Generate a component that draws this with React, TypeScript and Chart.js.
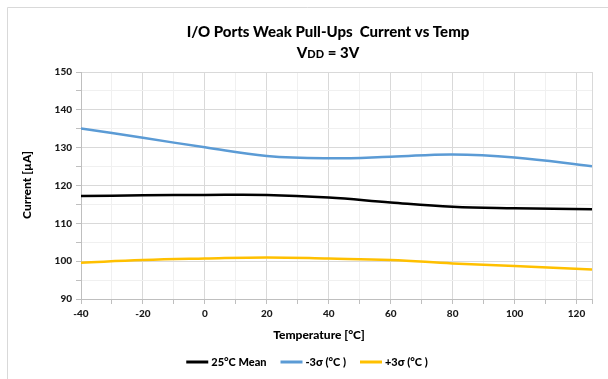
import React, { useEffect, useRef } from "react";
import { Chart, registerables } from "chart.js";

Chart.register(...registerables);

const temps = [-40, -20, 0, 20, 40, 60, 80, 100, 125];
const mean25 = [117.2, 117.4, 117.5, 117.5, 116.8, 115.5, 114.4, 114.0, 113.7];
const minus3s = [135.1, 132.6, 130.1, 127.8, 127.2, 127.6, 128.2, 127.4, 125.1];
const plus3s = [99.6, 100.3, 100.7, 101.0, 100.7, 100.3, 99.4, 98.7, 97.8];
const seriesNames = ["25°C Mean", "-3σ (°C )", "+3σ (°C )"];
const seriesColors = ["#000000", "#5B9BD5", "#FFC000"];
const xTickValues = [-40, -30, -20, -10, 0, 10, 20, 30, 40, 50, 60, 70, 80, 90, 100, 110, 120, 125];
const titleLine1 = "I/O Ports Weak Pull-Ups  Current vs Temp";
const xTitle = "Temperature [°C]";
const yTitle = "Current [µA]";

const FONT = "Lato, 'Open Sans', sans-serif";
const TEXT = "#1a1a1a";

const decor = {
  id: "decor",
  beforeDraw(chart: any) {
    const ctx = chart.ctx;
    ctx.save();
    ctx.fillStyle = "#ffffff";
    ctx.fillRect(0, 0, chart.width, chart.height);
    ctx.strokeStyle = "#d9d9d9";
    ctx.lineWidth = 1;
    ctx.beginPath();
    ctx.moveTo(7.5, chart.height);
    ctx.lineTo(7.5, 7.5);
    ctx.lineTo(chart.width, 7.5);
    ctx.stroke();
    ctx.restore();
  },
  afterDraw(chart: any) {
    const ctx = chart.ctx;
    ctx.save();
    ctx.fillStyle = "#000000";
    ctx.textBaseline = "middle";
    ctx.font = `900 15px ${FONT}`;
    ctx.textAlign = "center";
    ctx.fillText(titleLine1, 328, 32);
    const big = `900 15px ${FONT}`;
    const small = `900 11px ${FONT}`;
    const parts = [
      { t: "V", f: big },
      { t: "DD", f: small },
      { t: " = 3V", f: big },
    ];
    let total = 0;
    parts.forEach((p) => {
      ctx.font = p.f;
      total += ctx.measureText(p.t).width;
    });
    let x = 328 - total / 2;
    ctx.textAlign = "left";
    ctx.textBaseline = "alphabetic";
    parts.forEach((p) => {
      ctx.font = p.f;
      ctx.fillText(p.t, x, 58);
      x += ctx.measureText(p.t).width;
    });
    ctx.textBaseline = "middle";
    ctx.textAlign = "center";
    ctx.font = `900 12px ${FONT}`;
    ctx.fillText(xTitle, 319, 335);
    ctx.save();
    ctx.translate(27, 185);
    ctx.rotate(-Math.PI / 2);
    ctx.fillText(yTitle, 0, 0);
    ctx.restore();
    ctx.font = `900 11px ${FONT}`;
    const lineW = 22;
    const gapLT = 3;
    const gapItem = 14;
    const widths = seriesNames.map((n) => ctx.measureText(n).width);
    let lw = 0;
    widths.forEach((w, i) => {
      lw += lineW + gapLT + w + (i < widths.length - 1 ? gapItem : 0);
    });
    let lx = 307 - lw / 2;
    const ly = 362;
    ctx.textAlign = "left";
    seriesNames.forEach((n, i) => {
      ctx.strokeStyle = seriesColors[i];
      ctx.lineWidth = 3;
      ctx.beginPath();
      ctx.moveTo(lx, ly);
      ctx.lineTo(lx + lineW, ly);
      ctx.stroke();
      lx += lineW + gapLT;
      ctx.fillStyle = "#000000";
      ctx.fillText(n, lx, ly);
      lx += widths[i] + gapItem;
    });
    ctx.restore();
  },
};

export default function App() {
  const ref = useRef<HTMLCanvasElement>(null);
  useEffect(() => {
    document.body.style.margin = "0";
    const mk = (data: number[]) => temps.map((t, i) => ({ x: t, y: data[i] }));
    const chart = new Chart(ref.current!, {
      type: "line",
      data: {
        datasets: [mean25, minus3s, plus3s].map((d, i) => ({
          label: seriesNames[i],
          data: mk(d),
          borderColor: seriesColors[i],
          backgroundColor: seriesColors[i],
          borderWidth: 2.5,
          pointRadius: 0,
          tension: 0.4,
          fill: false,
        })),
      },
      options: {
        animation: false,
        responsive: false,
        maintainAspectRatio: false,
        layout: { padding: { top: 72, left: 0, right: 16, bottom: 0 } },
        plugins: {
          legend: { display: false },
          title: { display: false },
          tooltip: { enabled: false },
        },
        scales: {
          x: {
            type: "linear",
            min: -40,
            max: 125,
            afterBuildTicks: (s: any) => {
              s.ticks = xTickValues.map((v) => ({ value: v }));
            },
            afterFit: (s: any) => {
              s.height = 80;
            },
            ticks: {
              autoSkip: false,
              maxRotation: 0,
              padding: 4,
              color: TEXT,
              font: { family: FONT, size: 10, weight: "900" },
              callback: (v: any) => (Number(v) % 20 === 0 ? String(v) : ""),
            },
            grid: {
              color: (c: any) =>
                c.tick && (c.tick.value % 20 === 0 || c.tick.value === 125) ? "#d9d9d9" : "#f0f0f0",
              tickColor: "#bfbfbf",
              tickLength: 5,
            },
            border: { color: "#bfbfbf" },
          },
          y: {
            type: "linear",
            min: 90,
            max: 150,
            afterFit: (s: any) => {
              s.width = 81;
            },
            ticks: {
              stepSize: 5,
              autoSkip: false,
              padding: 4,
              color: TEXT,
              font: { family: FONT, size: 10, weight: "900" },
              callback: (v: any) => (Number(v) % 10 === 0 ? String(v) : ""),
            },
            grid: {
              color: (c: any) => (c.tick && c.tick.value % 10 === 0 ? "#d9d9d9" : "#f0f0f0"),
              tickColor: "#bfbfbf",
              tickLength: 5,
            },
            border: { color: "#bfbfbf" },
          },
        },
      },
      plugins: [decor],
    });
    return () => chart.destroy();
  }, []);
  return (
    <div style={{ width: 608, height: 379, position: "relative" }}>
      <canvas ref={ref} width={608} height={379} style={{ width: 608, height: 379, display: "block" }} />
    </div>
  );
}
